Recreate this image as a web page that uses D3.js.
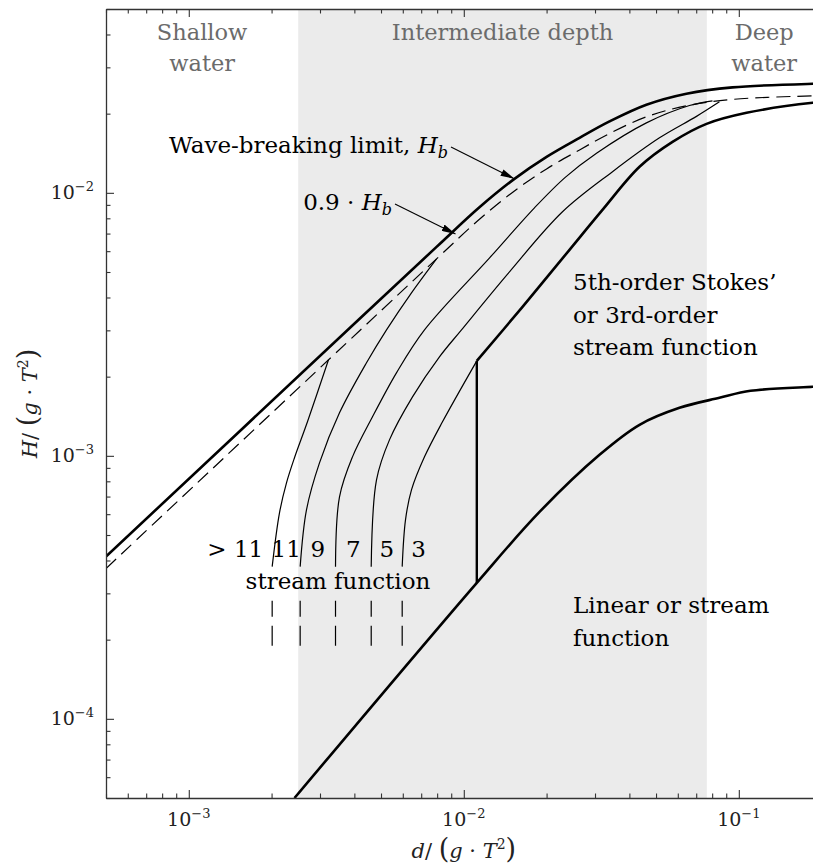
<!DOCTYPE html>
<html>
  <head>
    <meta charset="utf-8" />
    <script src="https://d3js.org/d3.v7.min.js"></script>
    <title>Wave theory applicability</title>
    <style>
      body {
        margin: 0px;
        background: #fff;
      }
      svg {
        font-family: 'DejaVu Serif', serif;
      }
      .region-label {
        fill: #6b6b6b;
        font-size: 22.5px;
        text-anchor: middle;
      }
      .label {
        fill: #000;
        font-size: 23px;
      }
      .tick-label {
        fill: #222;
        font-size: 19px;
      }
      .axis-label {
        fill: #222;
        font-size: 21px;
      }
      .domain {
        stroke: #333;
        stroke-width: 1.3;
      }
      .tick line {
        stroke: #333;
        stroke-width: 1.1;
      }
    </style>
  </head>
  <body>
    <script>
      // d / (g T^2) and H / (g T^2)
      const breakingD = [5e-4, 0.00418, 0.00796, 0.0114, 0.01528, 0.02, 0.02636, 0.03387, 0.04613, 0.06451, 0.09487, 0.1855, 0.2];
      const breakingH = [4.14e-4, 0.00332, 0.00623, 0.00881, 0.0113, 0.0137, 0.01618, 0.01868, 0.02162, 0.02381, 0.02518, 0.02597, 0.026];
      const breaking90H = [3.73e-4, 0.00299, 0.00561, 0.00793, 0.01017, 0.01233, 0.01456, 0.01681, 0.01946, 0.02143, 0.02266, 0.02337, 0.0234];

      // stream function order boundaries (>11|11, 11|9, 9|7, 7|5, 5|3)
      const bound11plus = [[0.00201, 3.79e-4], [0.002137, 6.07e-4], [0.002266, 7.89e-4], [0.002423, 9.83e-4], [0.002701, 0.001347], [0.003221, 0.002318]];
      const bound11 = [[0.002541, 3.79e-4], [0.002679, 6.23e-4], [0.002987, 9.4e-4], [0.003532, 0.001457], [0.004428, 0.002258], [0.005236, 0.003013], [0.006453, 0.004167], [0.00796, 0.005611]];
      const bound9 = [[0.003416, 3.79e-4], [0.003532, 6.98e-4], [0.003938, 9.91e-4], [0.004656, 0.001407], [0.00569, 0.002068], [0.007196, 0.003013], [0.01241, 0.00566], [0.01807, 0.00877], [0.02338, 0.01145], [0.03038, 0.01414], [0.04613, 0.01845], [0.06615, 0.02148], [0.08023, 0.02238]];
      const bound7 = [[0.004606, 3.79e-4], [0.004815, 8.1e-4], [0.005367, 0.00115], [0.006509, 0.001676], [0.008157, 0.002379], [0.009809, 0.003013], [0.01466, 0.005007], [0.02285, 0.00847], [0.03473, 0.01203], [0.05147, 0.01618], [0.07017, 0.01953], [0.08502, 0.02218]];
      const bound5 = [[0.00597, 3.79e-4], [0.006138, 5.71e-4], [0.006453, 7.42e-4], [0.007196, 9.91e-4], [0.008366, 0.001347], [0.01115, 0.002297]];
      const orderLabels = ['> 11', '11', '9', '7', '5', '3'];

      const stokesD = [0.01115, 0.01635, 0.02423, 0.03193, 0.04355, 0.0574, 0.07631, 0.1067, 0.1855, 0.2];
      const stokesH = [0.002297, 0.003685, 0.006072, 0.00861, 0.01256, 0.01562, 0.01829, 0.02015, 0.02199, 0.0221];

      const linearD = [0.002423, 0.01115, 0.01885, 0.03115, 0.04355, 0.06085, 0.08502, 0.1103, 0.1855, 0.2];
      const linearH = [5e-5, 3.29e-4, 6.12e-4, 0.001009, 0.001312, 0.001522, 0.001662, 0.001767, 0.00183, 0.00184];

      const splitD = 0.01115;
      const splitH = [3.29e-4, 0.002297];
      const markerH = [2.81e-4, 1.895e-4];

      const regionBounds = [0.0025, 0.0765];
      const xMajor = [1e-3, 1e-2, 1e-1];
      const yMajor = [1e-4, 1e-3, 1e-2];
      const xExp = ['−3', '−2', '−1'];
      const yExp = ['−4', '−3', '−2'];

      const width = 813;
      const height = 868;
      const plot = { left: 106, right: 821.6, top: 9, bottom: 798 };

      const svg = d3
        .select('body')
        .append('svg')
        .attr('width', width)
        .attr('height', height);

      const x = d3.scaleLog().domain([5e-4, 0.2]).range([plot.left, plot.right]);
      const y = d3.scaleLog().domain([5e-5, 5e-2]).range([plot.bottom, plot.top]);

      const defs = svg.append('defs');
      defs
        .append('clipPath')
        .attr('id', 'clip')
        .append('rect')
        .attr('x', plot.left)
        .attr('y', plot.top)
        .attr('width', plot.right - plot.left)
        .attr('height', plot.bottom - plot.top);

      defs
        .append('marker')
        .attr('id', 'arrow')
        .attr('markerUnits', 'userSpaceOnUse')
        .attr('markerWidth', 14)
        .attr('markerHeight', 7)
        .attr('refX', 14)
        .attr('refY', 3.5)
        .attr('orient', 'auto')
        .append('path')
        .attr('d', 'M0,0 L14,3.5 L0,7 z')
        .attr('fill', '#000');

      // intermediate depth band
      svg
        .append('rect')
        .attr('x', x(regionBounds[0]))
        .attr('y', plot.top)
        .attr('width', x(regionBounds[1]) - x(regionBounds[0]))
        .attr('height', plot.bottom - plot.top)
        .attr('fill', '#ebebeb');

      const line = d3
        .line()
        .x((d) => x(d[0]))
        .y((d) => y(d[1]))
        .curve(d3.curveCatmullRom.alpha(0.5));

      const lines = svg.append('g').attr('clip-path', 'url(#clip)');

      lines
        .append('path')
        .attr('d', line(d3.zip(breakingD, breakingH)))
        .attr('fill', 'none')
        .attr('stroke', '#000')
        .attr('stroke-width', 2.6);

      lines
        .append('path')
        .attr('d', line(d3.zip(breakingD, breaking90H)))
        .attr('fill', 'none')
        .attr('stroke', '#000')
        .attr('stroke-width', 1.2)
        .attr('stroke-dasharray', '14,7');

      const bounds = [bound11plus, bound11, bound9, bound7, bound5];
      bounds.forEach((b) => {
        lines
          .append('path')
          .attr('d', line(b))
          .attr('fill', 'none')
          .attr('stroke', '#000')
          .attr('stroke-width', 1.2);
        lines
          .append('line')
          .attr('x1', x(b[0][0]))
          .attr('x2', x(b[0][0]))
          .attr('y1', y(markerH[0]))
          .attr('y2', y(markerH[1]))
          .attr('stroke', '#000')
          .attr('stroke-width', 1.2)
          .attr('stroke-dasharray', '16,9,21');
      });

      lines
        .append('path')
        .attr('d', line(d3.zip(stokesD, stokesH)))
        .attr('fill', 'none')
        .attr('stroke', '#000')
        .attr('stroke-width', 2.6);

      lines
        .append('path')
        .attr('d', line(d3.zip(linearD, linearH)))
        .attr('fill', 'none')
        .attr('stroke', '#000')
        .attr('stroke-width', 2.6);

      lines
        .append('line')
        .attr('x1', x(splitD))
        .attr('x2', x(splitD))
        .attr('y1', y(splitH[0]))
        .attr('y2', y(splitH[1]))
        .attr('stroke', '#000')
        .attr('stroke-width', 2.4);

      // axes, ticks inside on all sides
      const xMinor = x.ticks().filter((v) => !xMajor.some((m) => Math.abs(m - v) / m < 1e-6));
      const yMinor = y.ticks().filter((v) => !yMajor.some((m) => Math.abs(m - v) / m < 1e-6));

      const addAxis = (axis, transform, major, minor) => {
        svg
          .append('g')
          .attr('transform', transform)
          .call(axis.tickValues(major).tickSize(-8).tickSizeOuter(0).tickFormat(''));
        const mg = svg
          .append('g')
          .attr('transform', transform)
          .call(axis.tickValues(minor).tickSize(-4.5).tickSizeOuter(0).tickFormat(''));
        mg.select('.domain').remove();
      };
      addAxis(d3.axisBottom(x), `translate(0,${plot.bottom})`, xMajor, xMinor);
      addAxis(d3.axisTop(x), `translate(0,${plot.top})`, xMajor, xMinor);
      addAxis(d3.axisLeft(y), `translate(${plot.left},0)`, yMajor, yMinor);
      addAxis(d3.axisRight(y), `translate(${plot.right},0)`, yMajor, yMinor);

      xMajor.forEach((v, i) => {
        const t = svg
          .append('text')
          .attr('class', 'tick-label')
          .attr('x', x(v))
          .attr('y', plot.bottom + 28)
          .attr('text-anchor', 'middle');
        t.append('tspan').text('10');
        t.append('tspan').attr('font-size', 13).attr('dy', -8).text(xExp[i]);
      });

      yMajor.forEach((v, i) => {
        const t = svg
          .append('text')
          .attr('class', 'tick-label')
          .attr('x', 94)
          .attr('y', y(v) + 6.5)
          .attr('text-anchor', 'end');
        t.append('tspan').text('10');
        t.append('tspan').attr('font-size', 13).attr('dy', -8).text(yExp[i]);
      });

      const axisTitle = (t, v) => {
        t.append('tspan').attr('font-style', 'italic').text(v);
        t.append('tspan').text('/ ');
        t.append('tspan').attr('font-size', 27).text('(');
        t.append('tspan').attr('font-style', 'italic').text('g');
        t.append('tspan').text(' · ');
        t.append('tspan').attr('font-style', 'italic').text('T');
        t.append('tspan').attr('font-size', 14).attr('dy', -9).text('2');
        t.append('tspan').attr('font-size', 27).attr('dy', 9).text(')');
      };

      axisTitle(
        svg
          .append('text')
          .attr('class', 'axis-label')
          .attr('x', (plot.left + plot.right) / 2)
          .attr('y', 858)
          .attr('text-anchor', 'middle'),
        'd'
      );

      axisTitle(
        svg
          .append('text')
          .attr('class', 'axis-label')
          .attr('transform', `translate(37,${(plot.top + plot.bottom) / 2}) rotate(-90)`)
          .attr('text-anchor', 'middle'),
        'H'
      );

      // region labels
      const regionLabel = (cx, rows) => {
        rows.forEach((s, i) => {
          svg
            .append('text')
            .attr('class', 'region-label')
            .attr('x', cx)
            .attr('y', 40 + i * 31)
            .text(s);
        });
      };
      regionLabel((plot.left + x(regionBounds[0])) / 2, ['Shallow', 'water']);
      regionLabel((x(regionBounds[0]) + x(regionBounds[1])) / 2, ['Intermediate depth']);
      regionLabel((x(regionBounds[1]) + plot.right) / 2, ['Deep', 'water']);

      // breaking-limit annotations
      const hbLabel = (tx, ty, prefix, tip) => {
        const t = svg
          .append('text')
          .attr('class', 'label')
          .attr('x', tx)
          .attr('y', ty)
          .attr('text-anchor', 'end');
        t.append('tspan').text(prefix);
        t.append('tspan').attr('font-style', 'italic').text('H');
        t.append('tspan').attr('font-style', 'italic').attr('font-size', 16).attr('dy', 5).text('b');
        svg
          .append('line')
          .attr('x1', tx + 3)
          .attr('y1', ty - 6)
          .attr('x2', tip[0])
          .attr('y2', tip[1])
          .attr('stroke', '#000')
          .attr('stroke-width', 1.1)
          .attr('marker-end', 'url(#arrow)');
      };
      hbLabel(448, 153, 'Wave-breaking limit, ', [x(0.01528), y(0.0113)]);
      hbLabel(392, 210, '0.9 · ', [x(0.00933), y(0.00698)]);

      // stream function order labels
      const bx = bounds.map((b) => x(b[0][0]));
      const orderY = 557;
      orderLabels.forEach((s, i) => {
        let px;
        let anchor = 'middle';
        if (i === 0) {
          px = bx[0] - 9;
          anchor = 'end';
        } else if (i === orderLabels.length - 1) {
          px = bx[bx.length - 1] + 9;
          anchor = 'start';
        } else {
          px = (bx[i - 1] + bx[i]) / 2;
        }
        svg
          .append('text')
          .attr('class', 'label')
          .attr('x', px)
          .attr('y', orderY)
          .attr('text-anchor', anchor)
          .text(s);
      });
      svg
        .append('text')
        .attr('class', 'label')
        .attr('x', 338)
        .attr('y', 589)
        .attr('text-anchor', 'middle')
        .text('stream function');

      const block = (px, py, rows) => {
        rows.forEach((s, i) => {
          svg
            .append('text')
            .attr('class', 'label')
            .attr('x', px)
            .attr('y', py + i * 32.5)
            .text(s);
        });
      };
      block(573, 290, ['5th-order Stokes’', 'or 3rd-order', 'stream function']);
      block(573, 613, ['Linear or stream', 'function']);
    </script>
  </body>
</html>
